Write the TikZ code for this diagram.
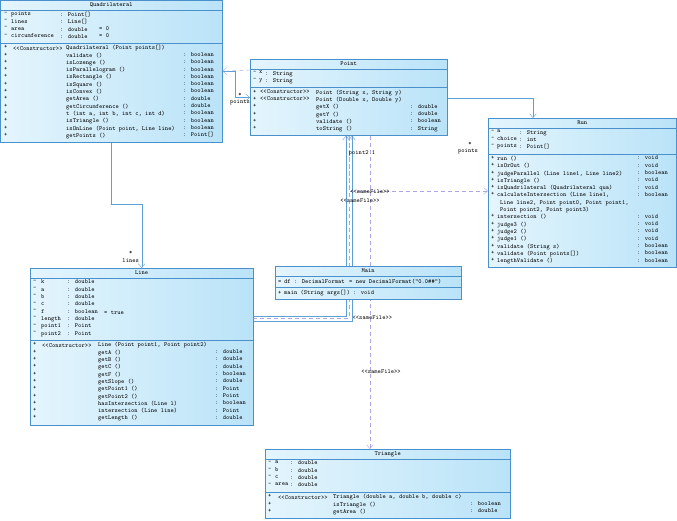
\documentclass[tikz,border=0pt]{standalone}
\usepackage{fontspec}
\usepackage{tikz}
\usetikzlibrary{arrows.meta,positioning,calc,backgrounds}
\definecolor{clsline}{RGB}{74,144,204}
\definecolor{clsleft}{RGB}{228,245,253}
\definecolor{clsright}{RGB}{186,227,248}
\definecolor{assoccol}{RGB}{92,160,215}
\definecolor{depcol}{RGB}{172,166,226}
\newcommand\umlfont{\ttfamily\fontsize{6.2pt}{7.3pt}\selectfont}
\newcommand\rowh{7.3}
\tikzset{
  clsbox/.style={draw=clsline, left color=clsleft, right color=clsright, inner sep=0pt, anchor=north west},
  sepline/.style={draw=clsline},
  ttl/.style={font=\umlfont, inner sep=0pt},
  col/.style={font=\umlfont, inner sep=0pt, anchor=north west, align=left, execute at begin node=\strut},
  lbl/.style={font=\umlfont, inner sep=0pt},
  assoc/.style={draw=assoccol, -{Straight Barb[length=1.4mm,width=2.4mm]}},
  dep/.style={draw=depcol, dash pattern=on 4pt off 3pt, -{Straight Barb[length=1.4mm,width=2.4mm]}},
}
% name, x, y, width, #attributes, #operations, title
\newcommand\umlbox[7]{%
  \pgfmathsetmacro\attrh{#5*\rowh+4}%
  \pgfmathsetmacro\operh{#6*\rowh+4}%
  \pgfmathsetmacro\boxh{10+\attrh+\operh}%
  \node[clsbox, minimum width=#4pt, minimum height=\boxh pt] (#1) at (#2,#3) {};
  \node[ttl] (#1-t) at ($(#1.north)+(0,5)$) {#7};
  \coordinate (#1-a) at ($(#1.north west)+(0,10)$);
  \coordinate (#1-m) at ($(#1.north west)+(0,10+\attrh)$);
  \draw[sepline] (#1-a) -- ++(#4,0);
  \draw[sepline] (#1-m) -- ++(#4,0);
}

\begin{document}
\begin{tikzpicture}[x=1pt, y=-1pt]
  \useasboundingbox (0,0) rectangle (677,520);

  % classes
  \umlbox{quad}{0}{0}{222}{4}{13}{Quadrilateral}
  \node[col] (quad-av) at ($(quad-a)+(4,2)$) {-\\-\\-\\-};
  \node[col] (quad-an) at ($(quad-a)+(11,2)$) {points\\lines\\area\\circumference};
  \node[col] (quad-at) at ($(quad-a)+(60,2)$) {: Point[]\\: Line[]\\: double\\: double};
  \node[col] (quad-ad) at ($(quad-a)+(99,2+2*\rowh)$) {= 0\\= 0};
  \node[col] (quad-mv) at ($(quad-m)+(4,2)$) {+\\+\\+\\+\\+\\+\\+\\+\\+\\+\\+\\+\\+};
  \node[col] (quad-mc) at ($(quad-m)+(13,2)$) {<<Constructor>>};
  \node[col] (quad-mn) at ($(quad-m)+(66,2)$) {Quadrilateral (Point points[])\\validate ()\\isLozenge ()\\isParallelogram ()\\isRectangle ()\\isSquare ()\\isConvex ()\\getArea ()\\getCircumference ()\\t (int a, int b, int c, int d)\\isTriangle ()\\isOnLine (Point point, Line line)\\getPoints ()};
  \node[col] (quad-mt) at ($(quad-m)+(183,2+\rowh)$) {: boolean\\: boolean\\: boolean\\: boolean\\: boolean\\: boolean\\: double\\: double\\: boolean\\: boolean\\: boolean\\: Point[]};

  \umlbox{pt}{250}{59}{197}{2}{6}{Point}
  \node[col] (pt-av) at ($(pt-a)+(3,2)$) {-\\-};
  \node[col] (pt-an) at ($(pt-a)+(9,2)$) {x\\y};
  \node[col] (pt-at) at ($(pt-a)+(15,2)$) {: String\\: String};
  \node[col] (pt-mv) at ($(pt-m)+(3,2)$) {+\\+\\+\\+\\+\\+};
  \node[col] (pt-mc) at ($(pt-m)+(10,2)$) {<<Constructor>>\\<<Constructor>>};
  \node[col] (pt-mn) at ($(pt-m)+(66,2)$) {Point (String x, String y)\\Point (Double x, Double y)\\getX ()\\getY ()\\validate ()\\toString ()};
  \node[col] (pt-mt) at ($(pt-m)+(160,2+2*\rowh)$) {: double\\: double\\: boolean\\: String};

  \umlbox{run}{488}{118}{188}{3}{15}{Run}
  \node[col] (run-av) at ($(run-a)+(3,2)$) {-\\-\\-};
  \node[col] (run-an) at ($(run-a)+(9,2)$) {a\\choice\\points};
  \node[col] (run-at) at ($(run-a)+(31,2)$) {: String\\: int\\: Point[]};
  \node[col] (run-mv) at ($(run-m)+(3,2)$) {+\\+\\+\\+\\+\\+};
  \node[col] (run-mw) at ($(run-m)+(3,2+8*\rowh)$) {+\\+\\+\\+\\+\\+\\+};
  \node[col] (run-mn) at ($(run-m)+(9,2)$) {run ()\\isOrOut ()\\judgeParallel (Line line1, Line line2)\\isTriangle ()\\isQuadrilateral (Quadrilateral qua)\\calculateIntersection (Line line1,\\\hspace*{3pt}Line line2, Point point0, Point point1,\\\hspace*{3pt}Point point2, Point point3)\\intersection ()\\judge3 ()\\judge2 ()\\judge1 ()\\validate (String s)\\validate (Point points[])\\lengthValidate ()};
  \node[col] (run-mt) at ($(run-m)+(149,2)$) {: void\\: void\\: boolean\\: void\\: void\\: boolean};
  \node[col] (run-mu) at ($(run-m)+(149,2+8*\rowh)$) {: void\\: void\\: void\\: void\\: boolean\\: boolean\\: boolean};

  \umlbox{main}{275}{266}{186}{1}{1}{Main}
  \node[col] (main-av) at ($(main-a)+(3,2)$) {=};
  \node[col] (main-an) at ($(main-a)+(9,2)$) {df};
  \node[col] (main-at) at ($(main-a)+(19,2)$) {: DecimalFormat};
  \node[col] (main-ad) at ($(main-a)+(74,2)$) {= new DecimalFormat("0.0\#\#")};
  \node[col] (main-mv) at ($(main-m)+(3,2)$) {+};
  \node[col] (main-mn) at ($(main-m)+(9,2)$) {main (String args[])};
  \node[col] (main-mt) at ($(main-m)+(78,2)$) {: void};

  \umlbox{line}{30}{268}{223}{8}{11}{Line}
  \node[col] (line-av) at ($(line-a)+(3,2)$) {-\\-\\-\\-\\-\\-\\-\\-};
  \node[col] (line-an) at ($(line-a)+(11,2)$) {k\\a\\b\\c\\f\\length\\point1\\point2};
  \node[col] (line-at) at ($(line-a)+(37,2)$) {: double\\: double\\: double\\: double\\: boolean\\: double\\: Point\\: Point};
  \node[col] (line-ad) at ($(line-a)+(74,2+4*\rowh)$) {= true};
  \node[col] (line-mv) at ($(line-m)+(3,2)$) {+\\+\\+\\+\\+\\+\\+\\+\\+\\+\\+};
  \node[col] (line-mc) at ($(line-m)+(12,2)$) {<<Constructor>>};
  \node[col] (line-mn) at ($(line-m)+(68,2)$) {Line (Point point1, Point point2)\\getA ()\\getB ()\\getC ()\\getF ()\\getSlope ()\\getPoint1 ()\\getPoint2 ()\\hasIntersection (Line l)\\intersection (Line line)\\getLength ()};
  \node[col] (line-mt) at ($(line-m)+(185,2+\rowh)$) {: double\\: double\\: double\\: boolean\\: double\\: Point\\: Point\\: boolean\\: Point\\: double};

  \umlbox{tri}{265}{449}{245}{4}{3}{Triangle}
  \node[col] (tri-av) at ($(tri-a)+(3,2)$) {-\\-\\-\\-};
  \node[col] (tri-an) at ($(tri-a)+(10,2)$) {a\\b\\c\\area};
  \node[col] (tri-at) at ($(tri-a)+(25,2)$) {: double\\: double\\: double\\: double};
  \node[col] (tri-mv) at ($(tri-m)+(3,2)$) {+\\+\\+};
  \node[col] (tri-mc) at ($(tri-m)+(13,2)$) {<<Constructor>>};
  \node[col] (tri-mn) at ($(tri-m)+(68,2)$) {Triangle (double a, double b, double c)\\isTriangle ()\\getArea ()};
  \node[col] (tri-mt) at ($(tri-m)+(205,2+\rowh)$) {: boolean\\: double};

  \begin{scope}[on background layer]
    % associations
    \draw[assoc] ($(quad.south west)+(111,0)$) |- ($(line.north)+(0,-64)$) -- (line.north);
    \draw[assoc] (quad.east) -| ($(pt.west)+(-15,0)$) -- (pt.west);
    \draw[assoc] ($(pt.north east)+(0,39)$) -| ($(run.north west)+(45,0)$);
    \draw[assoc] ($(line.north east)+(0,48)$) -| ($(pt.south west)+(96,0)$);
    \draw[assoc] ($(line.north east)+(0,53)$) -| ($(pt.south west)+(102,0)$);
    % dependencies
    \draw[dep] ($(pt.north west)+(0,11)$) -- (quad.east);
    \draw[dep] ($(pt.south west)+(99,0)$) |- ($(run.north west)+(0,73)$);
    \draw[dep] ($(line.north east)+(0,50)$) -| ($(pt.south west)+(99,0)$);
    \draw[dep] ($(pt.south west)+(120,0)$) -- ($(tri.north west)+(105,0)$);
  \end{scope}

  % role names and stereotypes
  \node[lbl] (lines-m) at ($(line.north)+(-11,-15)$) {*};
  \node[lbl] (lines-r) at ($(line.north)+(-11,-7)$) {lines};
  \node[lbl] (qpts-m) at ($(pt.west)+(-10,-3)$) {*};
  \node[lbl] (qpts-r) at ($(pt.west)+(-10,5)$) {points};
  \node[lbl] (rpts-m) at ($(run.north west)+(-18,26)$) {*};
  \node[lbl] (rpts-r) at ($(run.north west)+(-20,33)$) {points};
  \node[lbl] (pt2-r) at ($(pt.south west)+(112,17)$) {point2 1};
  \node[lbl] (sf-run) at ($(pt.south west)+(120,56)$) {<<sameFile>>};
  \node[lbl] (sf-pt) at ($(pt.south west)+(110,65)$) {<<sameFile>>};
  \node[lbl] (sf-line) at ($(line.north east)+(119,50)$) {<<sameFile>>};
  \node[lbl] (sf-tri) at ($(tri.north west)+(116,-77)$) {<<sameFile>>};
\end{tikzpicture}
\end{document}
